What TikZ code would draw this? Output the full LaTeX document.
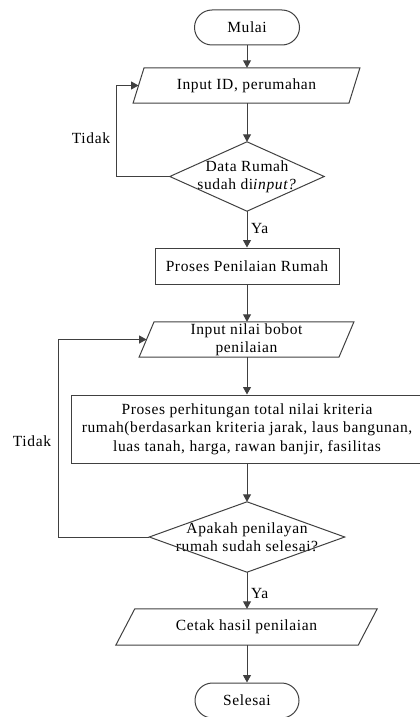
\documentclass[tikz,border=0pt]{standalone}
\usepackage{fontspec}
\setmainfont[LetterSpace=4]{Liberation Serif}
\usetikzlibrary{arrows.meta,calc}
\definecolor{lc}{HTML}{404040}
\newcommand\parashape[2]{\draw[line] ($(#1.south west)+(-#2,0)$) -- ($(#1.north west)+(#2,0)$) -- ($(#1.north east)+(#2,0)$) -- ($(#1.south east)+(-#2,0)$) -- cycle;}
\newcommand\diamshape[1]{\draw[line] (#1.north) -- (#1.east) -- (#1.south) -- (#1.west) -- cycle;}
\begin{document}
\begin{tikzpicture}[x=1pt,y=-1pt,
  every node/.style={font=\fontsize{15.5}{18.3}\selectfont, inner sep=0pt, align=center, text=black},
  line/.style={draw=lc, line width=1pt},
  arr/.style={line, -{Triangle[length=7.5pt,width=8pt]}},
  term/.style={draw=lc, line width=1pt, rounded corners=17.5pt, minimum height=35pt},
  box/.style={draw=lc, line width=1pt},
  io/.style={minimum height=35pt},
  dec/.style={}]
\useasboundingbox (0,0) rectangle (420,717);

\node[term, minimum width=105pt] (mulai) at (247,27.5) {Mulai};
\node[io, minimum width=215.5pt] (in1) at (246.5,85.5) {Input ID, perumahan};
\parashape{in1}{5.5}
\node[dec, minimum width=154pt, minimum height=69pt] (dec1) at (247,176.5) {Data Rumah\\sudah di\textit{input?}};
\diamshape{dec1}
\node[box, minimum width=184pt, minimum height=36pt] (p1) at (247,266) {Proses Penilaian Rumah};
\node[io, minimum width=199.5pt] (in2) at (246.5,339.5) {Input nilai bobot\\penilaian};
\parashape{in2}{7.5}
\node[box, minimum width=352pt, minimum height=68pt] (p2) at (247,429) {Proses perhitungan total nilai kriteria\\rumah(berdasarkan kriteria jarak, laus bangunan,\\luas tanah, harga, rawan banjir, fasilitas};
\node[dec, minimum width=195pt, minimum height=70pt] (dec2) at (247,537) {Apakah penilayan\\rumah sudah selesai?};
\diamshape{dec2}
\node[io, minimum width=242pt, minimum height=36pt] (cetak) at (246.5,627) {Cetak hasil penilaian};
\parashape{cetak}{9.5}
\node[term, minimum width=104pt] (selesai) at (247,700.5) {Selesai};

\node (t1) at (91,138) {Tidak};
\node (t2) at (32,441) {Tidak};
\node[anchor=west] (y1) at (251,228) {Ya};
\node[anchor=west] (y2) at (251,593) {Ya};

\coordinate (c1) at (116,176.5);
\coordinate (c2) at (58,537);

\draw[arr] (mulai) -- (in1.north -| mulai);
\draw[arr] (in1.south -| dec1.north) -- (dec1.north);
\draw[arr] (dec1.south) -- (p1.north -| dec1.south);
\draw[arr] (p1.south) -- (in2.north -| p1.south);
\draw[arr] (in2.south -| p2.north) -- (p2.north);
\draw[arr] (p2.south -| dec2.north) -- (dec2.north);
\draw[arr] (dec2.south) -- (cetak.north -| dec2.south);
\draw[arr] (cetak.south -| selesai.north) -- (selesai.north);
\draw[arr] (dec1.west) -- (c1) |- (in1.west);
\draw[arr] (dec2.west) -- (c2) |- (in2.west);
\end{tikzpicture}
\end{document}
